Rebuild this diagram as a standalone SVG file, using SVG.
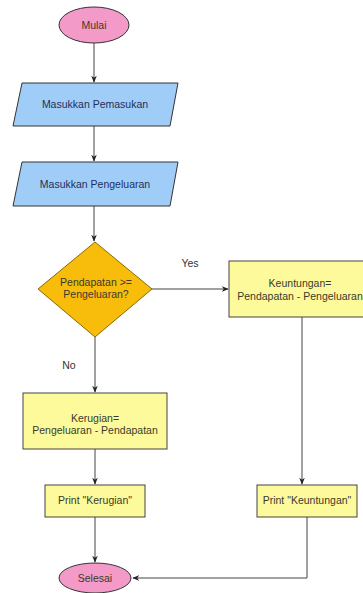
<svg xmlns="http://www.w3.org/2000/svg" width="363" height="593" viewBox="0 0 363 593">
<defs>
<style>
.term{fill:#f39ac9;stroke:#333;stroke-width:1}
.io{fill:#9fcdf7;stroke:#333;stroke-width:1}
.proc{fill:#fdfa9b;stroke:#444;stroke-width:1}
.dec{fill:#f7bd0a;stroke:#8a6a00;stroke-width:1}
text{font-family:"Liberation Sans",Arial,sans-serif;font-size:10.5px;text-anchor:middle;fill:#3a3a2a}
.blue{fill:#1f2f5a}
.lbl{fill:#333}
.ln{fill:none;stroke:#444;stroke-width:1}
</style>
<marker id="ah" viewBox="0 0 10 10" refX="9" refY="5" markerWidth="7" markerHeight="7" orient="auto">
<path d="M0,1 L10,5 L0,9 L3,5 Z" fill="#222"/>
</marker>
</defs>
<rect width="363" height="593" fill="#fff"/>
<g id="connectors">
<path class="ln" d="M94,43 V82" marker-end="url(#ah)"/>
<path class="ln" d="M94,126 V161" marker-end="url(#ah)"/>
<path class="ln" d="M94,206 V241" marker-end="url(#ah)"/>
<path class="ln" d="M152,289 H228" marker-end="url(#ah)"/>
<path class="ln" d="M95,337 V392" marker-end="url(#ah)"/>
<path class="ln" d="M302,317 V484" marker-end="url(#ah)"/>
<path class="ln" d="M95,449 V484" marker-end="url(#ah)"/>
<path class="ln" d="M95,517 V562" marker-end="url(#ah)"/>
<path class="ln" d="M307,517 V578 H133" marker-end="url(#ah)"/>
<text class="lbl" x="190" y="267">Yes</text>
<text class="lbl" x="69" y="369">No</text>
</g>
<g id="mulai">
<ellipse class="term" cx="94" cy="25" rx="35" ry="18"/>
<text x="94" y="28.5">Mulai</text>
</g>
<g id="input1">
<polygon class="io" points="22,83 178,83 170,126 13,126"/>
<text class="blue" x="95" y="108">Masukkan Pemasukan</text>
</g>
<g id="input2">
<polygon class="io" points="22,162 178,162 170,206 13,206"/>
<text class="blue" x="95" y="188">Masukkan Pengeluaran</text>
</g>
<g id="decision">
<polygon class="dec" points="95,242 152,289 95,337 38,289"/>
<text x="96" y="286">Pendapatan &gt;=</text>
<text x="96" y="298">Pengeluaran?</text>
</g>
<g id="keuntungan">
<rect class="proc" x="229" y="261" width="146" height="56"/>
<text x="300" y="287">Keuntungan=</text>
<text x="300" y="300">Pendapatan - Pengeluaran</text>
</g>
<g id="kerugian">
<rect class="proc" x="23" y="393" width="144" height="56"/>
<text x="95" y="422">Kerugian=</text>
<text x="95" y="434">Pengeluaran - Pendapatan</text>
</g>
<g id="printKerugian">
<rect class="proc" x="45" y="485" width="100" height="32"/>
<text x="95" y="504">Print "Kerugian"</text>
</g>
<g id="printKeuntungan">
<rect class="proc" x="257" y="485" width="100" height="32"/>
<text x="307" y="504">Print "Keuntungan"</text>
</g>
<g id="selesai">
<ellipse class="term" cx="95" cy="578" rx="36" ry="15"/>
<text x="95" y="581.5">Selesai</text>
</g>
</svg>
